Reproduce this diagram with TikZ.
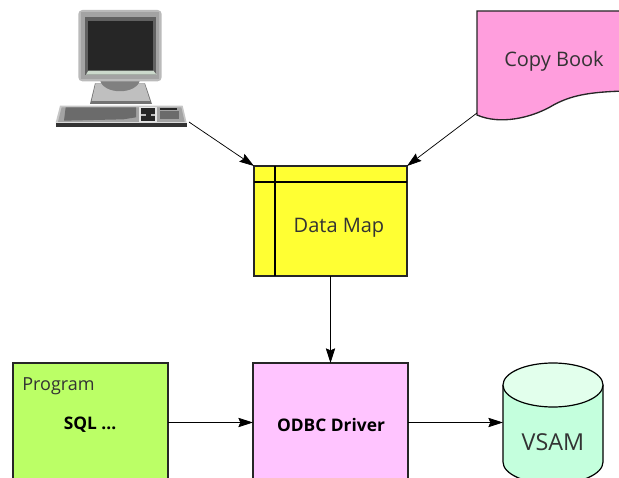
\documentclass[tikz,border=0pt]{standalone}
\usepackage{fontspec}
\setmainfont{Open Sans}
\usetikzlibrary{arrows.meta,positioning}
\tikzset{
 px/.style={x=0.75pt,y=-0.75pt},
 box/.style={draw=black!85,line width=0.9pt,inner sep=0pt,outer sep=0pt,anchor=north west},
 arr/.style={-{Stealth[length=11pt,width=7pt,inset=1.5pt]},line width=0.55pt,black},
 txt/.style={inner sep=0pt,text=black!80,font=\fontsize{15}{18}\selectfont},
 btxt/.style={inner sep=0pt,text=black,font=\bfseries\fontsize{13}{16}\selectfont},
}
\definecolor{cg}{HTML}{BBFF66}
\definecolor{cv}{HTML}{FFC4FF}
\definecolor{cy}{HTML}{FFFF33}
\definecolor{cp}{HTML}{FF9EDD}
\definecolor{cb}{HTML}{C4FFDD}
\definecolor{ct}{HTML}{E2FFEC}
\begin{document}
\begin{tikzpicture}[px]
\path[use as bounding box] (0,0) rectangle (619,478);
\clip (0,0) rectangle (619,478);
% computer
\begin{scope}[shift={(40,0)},x=0.25pt,y=-0.25pt]
 \fill[black!55] (150,312) -- (165,250) -- (315,250) -- (336,312) -- cycle;
 \fill[black!25] (155,303) -- (167,250) -- (313,250) -- (330,303) -- cycle;
 \fill[black!50] (180,240) .. controls (190,285) and (290,285) .. (300,240) -- cycle;
 \fill[black!27,rounded corners=3pt] (115,30) rectangle (365,244);
 \fill[black!36] (122,37) rectangle (358,238);
 \fill[black!62] (136,52) rectangle (348,225);
 \fill[black!85] (145,62) rectangle (340,212);
 \fill[green!25!black!20] (145,212) -- (340,212) -- (350,224) -- (138,224) -- cycle;
 \fill[black!80] (47,368) -- (440,368) -- (440,382) -- (47,382) -- cycle;
 \fill[black!22] (47,368) -- (60,317) -- (428,317) -- (440,368) -- cycle;
 \fill[black!36] (54,366) -- (65,322) -- (424,322) -- (434,366) -- cycle;
 \fill[black!58] (77,322) -- (288,322) -- (288,352) -- (250,358) -- (72,362) -- cycle;
 \fill[black!10] (296,320) rectangle (352,366);
 \fill[black!85] (303,324) rectangle (345,362);
 \fill[black!25] (303,341) rectangle (318,347);
 \fill[black!25] (334,341) rectangle (345,347);
 \fill[black!85] (360,324) rectangle (410,331);
 \fill[black!58] (360,334) rectangle (417,358);
\end{scope}
\coordinate (comp) at (189,122);
% copy book
\fill[cp] (477,11) -- (625,11) -- (625,91) .. controls (590,92) and (570,95) .. (550,107) .. controls (530,118) and (500,125) .. (477,115) -- cycle;
\draw[black!85,line width=1pt] (625,11) -- (477,11) -- (477,115) .. controls (500,125) and (530,118) .. (550,107) .. controls (570,95) and (590,92) .. (625,91);
\coordinate (copy) at (477,113);
\node[txt] (copytxt) at (554,61.5) {Copy Book};
% data map
\node[box,fill=cy,minimum width=114.75pt,minimum height=82.5pt] (map) at (254,166) {};
\draw[black,line width=0.9pt] (275,166) -- (275,276) (254,182) -- (407,182);
\node[txt] (maptxt) at (339,227.5) {Data Map};
% program
\node[box,fill=cg,minimum width=116.25pt,minimum height=110pt] (prog) at (13,363) {};
\node[txt,font=\fontsize{13.5}{16}\selectfont] (progtxt) at (58.5,386.5) {Program};
\node[btxt] (sql) at (90,425) {SQL ...};
% ODBC
\node[box,fill=cv,minimum width=116.25pt,minimum height=110pt] (odbc) at (253,363) {};
\node[btxt] (odbctxt) at (331,425) {ODBC Driver};
% vsam
\fill[cb] (503,385) -- (503,462) arc[start angle=180,end angle=0,x radius=50,y radius=22] -- (603,385) -- cycle;
\draw[black,line width=0.9pt] (503,385) -- (503,462) arc[start angle=180,end angle=0,x radius=50,y radius=22] -- (603,385);
\draw[black,line width=0.9pt,fill=ct] (553,385) ellipse[x radius=50,y radius=22];
\coordinate (vsam) at (503,422.5);
\node[txt,font=\fontsize{17.5}{20}\selectfont] (vsamtxt) at (553,442) {VSAM};
% connectors
\draw[arr] (comp) -- (map.north west);
\draw[arr] (copy) -- (map.north east);
\draw[arr] (map.south) -- (map.south |- odbc.north);
\coordinate (pr) at (168,422.5);
\coordinate (ol) at (253,422.5);
\coordinate (orr) at (408,422.5);
\draw[arr] (pr) -- (ol);
\draw[arr] (orr) -- (vsam);
\end{tikzpicture}
\end{document}
